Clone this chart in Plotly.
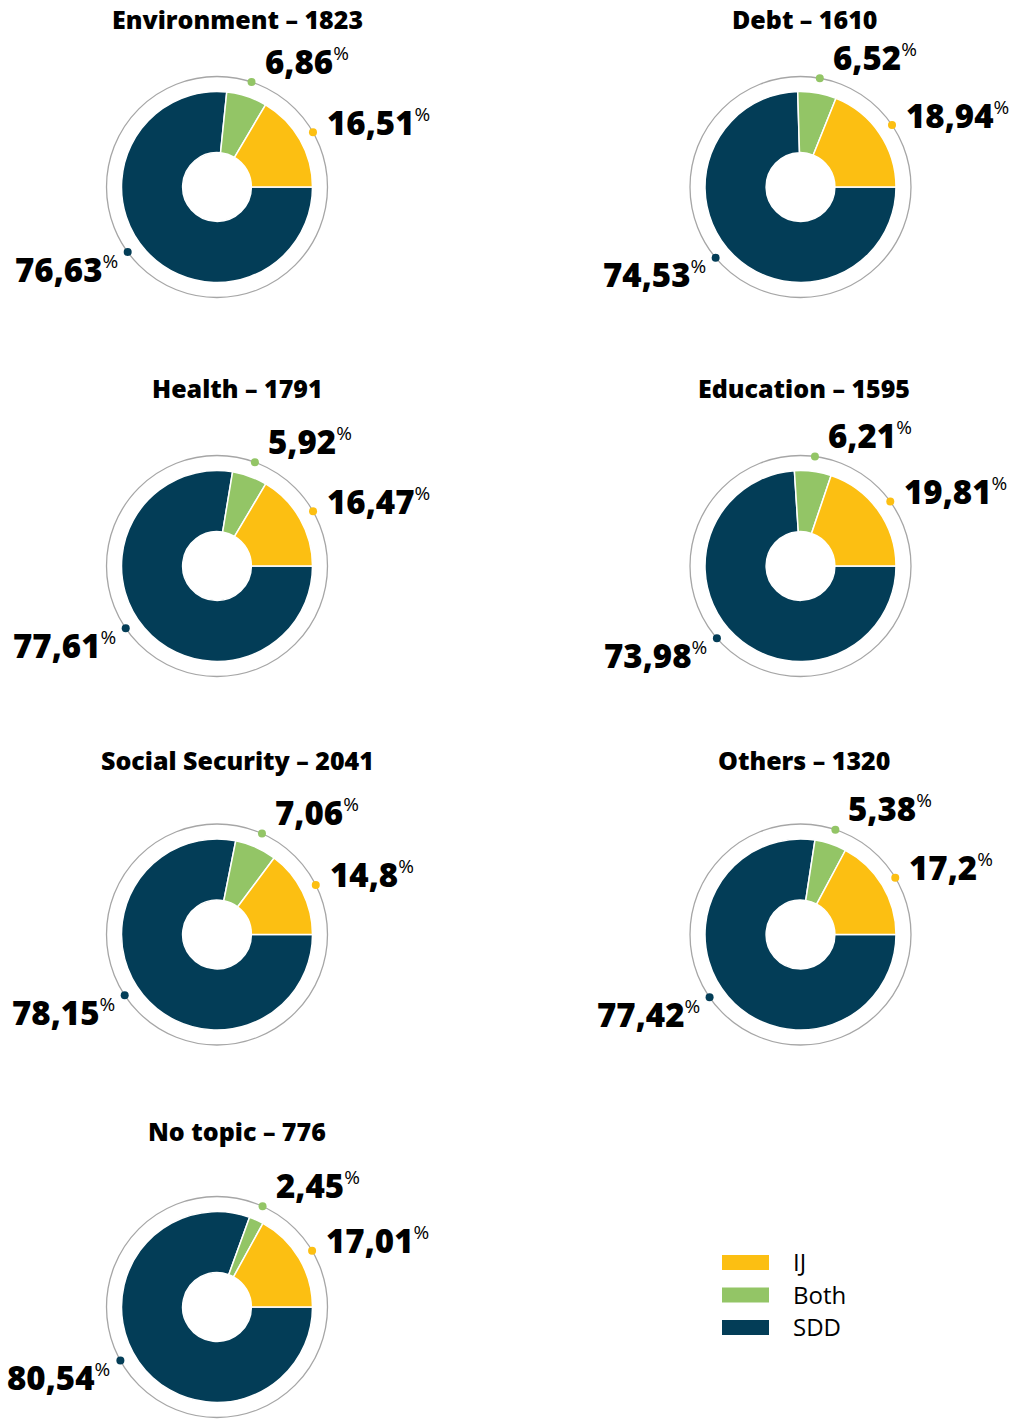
import math
import plotly.graph_objects as go

# ---------------- data ----------------
topics = ["Environment", "Debt", "Health", "Education", "Social Security", "Others", "No topic"]
counts = [1823, 1610, 1791, 1595, 2041, 1320, 776]
categories = ["IJ", "Both", "SDD"]
ij_pct = [16.51, 18.94, 16.47, 19.81, 14.8, 17.2, 17.01]
both_pct = [6.86, 6.52, 5.92, 6.21, 7.06, 5.38, 2.45]
sdd_pct = [76.63, 74.53, 77.61, 73.98, 78.15, 77.42, 80.54]
colors = ["#FCBF12", "#93C566", "#033D57"]

# ---------------- layout constants (pixels) ----------------
W, H = 1013, 1420
col_cx = [217, 800.5]
row_cy = [187, 566, 934.5, 1307]
col_title_x = [237, 804]
row_title_y = [19, 388, 760, 1131]
R = 95.5          # donut outer radius
HOLE = 0.36
RING = 110.5      # grey ring radius
FONT = "Open Sans"

fig = go.Figure()
shapes = []
annotations = []

for i, topic in enumerate(topics):
    col, row = i % 2, i // 2
    cx, cy = col_cx[col], row_cy[row]
    vals = [ij_pct[i], both_pct[i], sdd_pct[i]]
    # drawn clockwise from 3 o'clock in reverse order so IJ sits just above 3 o'clock
    fig.add_trace(go.Pie(
        labels=categories[::-1], values=vals[::-1], sort=False,
        direction="clockwise", rotation=90, hole=HOLE,
        marker=dict(colors=colors[::-1], line=dict(color="white", width=1.5)),
        textinfo="none", hoverinfo="label+percent", showlegend=False,
        domain=dict(x=[(cx - R) / W, (cx + R) / W],
                    y=[1 - (cy + R) / H, 1 - (cy - R) / H]),
    ))
    # grey ring
    shapes.append(dict(type="circle", xref="x", yref="y",
                       x0=cx - RING, x1=cx + RING, y0=cy - RING, y1=cy + RING,
                       line=dict(color="#A6A6A6", width=1.3), layer="below"))
    # title
    annotations.append(dict(x=col_title_x[col], y=row_title_y[row], xref="x", yref="y",
                            text=f"{topic} – {counts[i]}", showarrow=False,
                            xanchor="center", yanchor="middle",
                            font=dict(family=FONT, size=25, color="black", weight=800)))
    total = sum(vals)
    cum = 0
    dx_, dy_ = [], []
    for k, v in enumerate(vals):
        ang = (cum + v / 2) / total * 360
        if k == 2:
            ang -= 6
        cum += v
        a = math.radians(ang)
        px = cx + RING * math.cos(a)
        py = cy - RING * math.sin(a)
        dx_.append(px); dy_.append(py)
        label = f"{v:g}".replace(".", ",")
        txt = (f"{label}<sup><span style='font-size:19px;font-weight:400'>%</span></sup>")
        if k == 0:
            ax, ay, xa = px + 12, py - 10, "left"
        elif k == 1:
            ax, ay, xa = px + 11, py - 21, "left"
        else:
            ax, ay, xa = px - 8, py + 17, "right"
        annotations.append(dict(x=ax, y=ay, xref="x", yref="y", text=txt, showarrow=False,
                                xanchor=xa, yanchor="middle",
                                font=dict(family=FONT, size=33, color="black", weight=800)))
    fig.add_trace(go.Scatter(x=dx_, y=dy_, mode="markers",
                             marker=dict(color=colors, size=8),
                             hoverinfo="skip", showlegend=False))

# legend
leg_y = [1262.5, 1295, 1327.5]
for k, cat in enumerate(categories):
    shapes.append(dict(type="rect", xref="x", yref="y", x0=722, x1=769,
                       y0=leg_y[k] - 7.5, y1=leg_y[k] + 7.5,
                       fillcolor=colors[k], line=dict(width=0)))
    annotations.append(dict(x=791, y=leg_y[k] - 1, xref="x", yref="y", text=cat, showarrow=False,
                            xanchor="left", yanchor="middle",
                            font=dict(family=FONT, size=24, color="black")))

fig.update_layout(
    width=W, height=H, margin=dict(l=0, r=0, t=0, b=0),
    paper_bgcolor="white", plot_bgcolor="white",
    xaxis=dict(range=[0, W], visible=False, fixedrange=True, domain=[0, 1]),
    yaxis=dict(range=[H, 0], visible=False, fixedrange=True, domain=[0, 1]),
    shapes=shapes, annotations=annotations, showlegend=False,
)

fig.write_html("out.html", config={"displayModeBar": False},
               post_script="document.body.style.margin='0';")
